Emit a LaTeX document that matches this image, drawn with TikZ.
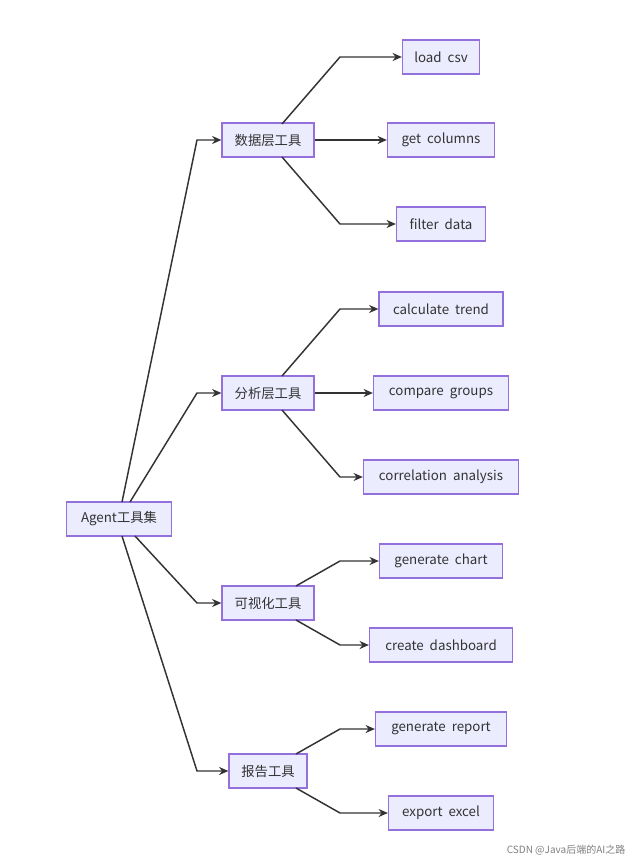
\documentclass[tikz,border=0pt]{standalone}
\usepackage{fontspec}
\setmainfont{Noto Sans CJK SC}
\usetikzlibrary{arrows.meta}
\definecolor{nfill}{HTML}{ECECFF}
\definecolor{nline}{HTML}{9370DB}
\definecolor{eline}{HTML}{333333}
\begin{document}
\begin{tikzpicture}[x=0.75pt,y=-0.75pt,
  box/.style={draw=nline,fill=nfill,line width=0.9pt,minimum height=25.5pt,inner xsep=7pt,font=\fontsize{10}{12}\selectfont,text=eline},
  edge/.style={draw=eline,line width=1.1pt,-{Stealth[length=7pt,width=6pt]}}]
\useasboundingbox (0,0) rectangle (634,862);
\fill[white] (0,0) rectangle (634,862);
\node[box,minimum width=78.75pt] (root) at (119,519) {Agent工具集};
\node[box,minimum width=69pt] (d) at (268,140) {数据层工具};
\node[box,minimum width=69pt] (a) at (268,393) {分析层工具};
\node[box,minimum width=69pt] (v) at (268,603) {可视化工具};
\node[box,minimum width=58.5pt] (r) at (268,771) {报告工具};
\node[box,minimum width=57.75pt] (d1) at (441,57) {load\ \ csv};
\node[box,minimum width=80.25pt] (d2) at (441,140) {get\ \ columns};
\node[box,minimum width=66.75pt] (d3) at (441,224) {filter\ \ data};
\node[box,minimum width=93pt] (a1) at (441,309) {calculate\ \ trend};
\node[box,minimum width=101.25pt] (a2) at (441,393) {compare\ \ groups};
\node[box,minimum width=116.25pt] (a3) at (441,477) {correlation\ \ analysis};
\node[box,minimum width=92.25pt] (v1) at (441,561) {generate\ \ chart};
\node[box,minimum width=107.25pt] (v2) at (441,645) {create\ \ dashboard};
\node[box,minimum width=98.25pt] (r1) at (441,729) {generate\ \ report};
\node[box,minimum width=78.75pt] (r2) at (441,813) {export\ \ excel};
\coordinate (rt) at (122,502);
\coordinate (rb) at (122,536);
\draw[edge] (rt) -- (197,140) -- (d.west);
\draw[edge] (130,502) -- (197,393) -- (a.west);
\draw[edge] (135,536) -- (197,603) -- (v.west);
\draw[edge] (rb) -- (197,771) -- (r.west);
\draw[edge] (282,124) -- (340,57) -- (d1.west);
\draw[edge] (d.east) -- (d2.west);
\draw[edge] (282,157) -- (340,224) -- (d3.west);
\draw[edge] (282,376) -- (340,309) -- (a1.west);
\draw[edge] (a.east) -- (a2.west);
\draw[edge] (282,410) -- (340,477) -- (a3.west);
\draw[edge] (296,586) -- (340,561) -- (v1.west);
\draw[edge] (296,620) -- (340,645) -- (v2.west);
\draw[edge] (296,754) -- (340,729) -- (r1.west);
\draw[edge] (296,788) -- (340,813) -- (r2.west);
\node[text=gray,font=\fontsize{7.5}{9}\selectfont,anchor=east] (wm) at (630,850) {CSDN @Java后端的AI之路};
\end{tikzpicture}
\end{document}
